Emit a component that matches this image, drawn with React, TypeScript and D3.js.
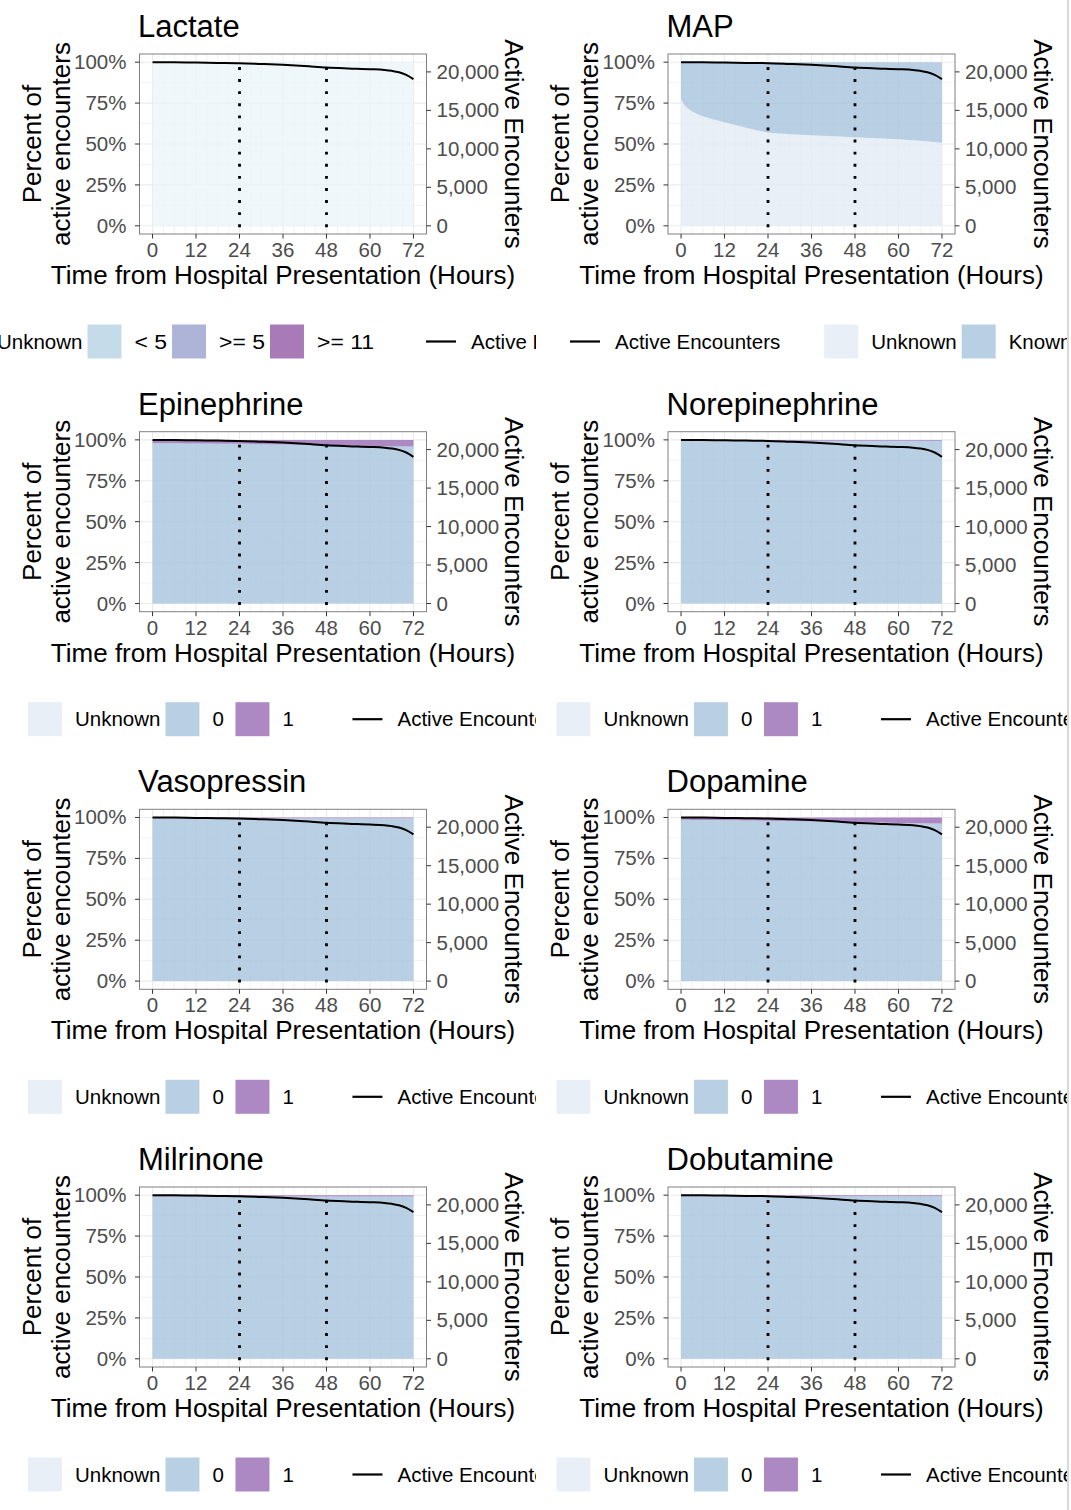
import React from 'react';
import * as d3 from 'd3';

const W = 1071;
const H = 1510;
const FONT = '"Liberation Sans", Arial, Helvetica, sans-serif';

// ---- axis / tick data ----
const hourTicks = [0, 12, 24, 36, 48, 60, 72];
const hourGrid = [0, 3, 6, 9, 12, 15, 18, 21, 24, 27, 30, 33, 36, 39, 42, 45, 48, 51, 54, 57, 60, 63, 66, 69, 72];
const pctTicks = [0, 25, 50, 75, 100];
const pctGrid = [0, 12.5, 25, 37.5, 50, 62.5, 75, 87.5, 100];
const countTicks = [0, 5000, 10000, 15000, 20000];
const refHours = [24, 48];

// ---- active encounters (secondary axis) ----
const maxActive = 21263;
const activeHours = [0, 6, 12, 18, 24, 30, 36, 42, 48, 54, 60, 64, 66, 68, 70, 72];
const activeCounts = [21263, 21250, 21210, 21170, 21130, 21030, 20920, 20760, 20570, 20450, 20350, 20250, 20140, 19960, 19620, 19060];

// ---- stacked percentages (hours sampled) ----
const bandHours = [0, 1, 2, 3, 6, 9, 12, 18, 24, 30, 36, 42, 48, 54, 60, 66, 72];
const lactateUnknown = [100, 100, 100, 100, 100, 100, 100, 100, 100, 100, 100, 100, 100, 100, 100, 100, 100];
const mapUnknown = [77.5, 73.5, 71.5, 70, 67, 65, 63.3, 60, 57, 56, 55.3, 54.7, 54.1, 53.5, 52.9, 52.0, 50.8];
const epiPositive = [2.0, 2.0, 2.0, 2.0, 2.1, 2.2, 2.2, 2.3, 2.4, 2.6, 2.8, 3.0, 3.3, 3.6, 3.9, 4.0, 4.1];
const norepiPositive = [0.5, 0.5, 0.5, 0.5, 0.5, 0.5, 0.5, 0.5, 0.5, 0.5, 0.5, 0.5, 0.5, 0.5, 0.5, 0.5, 0.5];
const vasoPositive = [0.4, 0.4, 0.4, 0.4, 0.4, 0.4, 0.4, 0.4, 0.4, 0.4, 0.4, 0.4, 0.4, 0.4, 0.4, 0.4, 0.4];
const dopaPositive = [1.4, 1.4, 1.4, 1.5, 1.5, 1.6, 1.7, 1.8, 2.0, 2.2, 2.4, 2.5, 2.7, 3.0, 3.3, 3.5, 3.7];
const milrinonePositive = [0.8, 0.8, 0.8, 0.8, 0.8, 0.8, 0.8, 0.8, 0.8, 0.8, 0.8, 0.8, 0.8, 0.8, 0.8, 0.8, 0.8];
const dobutaminePositive = [0.7, 0.7, 0.7, 0.7, 0.7, 0.7, 0.7, 0.7, 0.7, 0.7, 0.7, 0.7, 0.7, 0.7, 0.7, 0.7, 0.7];

// ---- colours ----
const FILL_OPACITY = 0.8;
const cLactUnknown = '#ecf5f9';
const cLt5 = '#b8d2e4';
const cGe5 = '#9aa1ce';
const cGe11 = '#9459a6';
const cUnknown = '#e2ebf4';
const cBlue = '#a7c3dd';
const cPurple = '#986cb5';

type Layer = { key: string; color: string; values: number[] };
type LegendItem = { type: 'fill' | 'line'; label: string; color?: string };
type Spec = {
  title: string;
  layers: Layer[];
  legend: LegendItem[][];
  legendX: number;
  groupGap: number;
  symbolStretch: number;
};

const binaryLegend: LegendItem[][] = [
  [
    { type: 'fill', label: 'Unknown', color: cUnknown },
    { type: 'fill', label: '0', color: cBlue },
    { type: 'fill', label: '1', color: cPurple },
  ],
  [{ type: 'line', label: 'Active Encounters' }],
];

function binarySpec(title: string, positive: number[]): Spec {
  return {
    title,
    layers: [
      { key: '0', color: cBlue, values: positive.map((p) => 100 - p) },
      { key: '1', color: cPurple, values: positive },
    ],
    legend: binaryLegend,
    legendX: 28,
    groupGap: 45,
    symbolStretch: 1,
  };
}

const specs: Spec[] = [
  {
    title: 'Lactate',
    layers: [{ key: 'Unknown', color: cLactUnknown, values: lactateUnknown }],
    legend: [
      [
        { type: 'fill', label: 'Unknown', color: cLactUnknown },
        { type: 'fill', label: '< 5', color: cLt5 },
        { type: 'fill', label: '>= 5', color: cGe5 },
        { type: 'fill', label: '>= 11', color: cGe11 },
      ],
      [{ type: 'line', label: 'Active Encounters' }],
    ],
    legendX: -50,
    groupGap: 45,
    symbolStretch: 1.12,
  },
  {
    title: 'MAP',
    layers: [
      { key: 'Unknown', color: cUnknown, values: mapUnknown },
      { key: 'Known', color: cBlue, values: mapUnknown.map((u) => 100 - u) },
    ],
    legend: [
      [{ type: 'line', label: 'Active Encounters' }],
      [
        { type: 'fill', label: 'Unknown', color: cUnknown },
        { type: 'fill', label: 'Known', color: cBlue },
      ],
    ],
    legendX: 39.5,
    groupGap: 39,
    symbolStretch: 1,
  },
  binarySpec('Epinephrine', epiPositive),
  binarySpec('Norepinephrine', norepiPositive),
  binarySpec('Vasopressin', vasoPositive),
  binarySpec('Dopamine', dopaPositive),
  binarySpec('Milrinone', milrinonePositive),
  binarySpec('Dobutamine', dobutaminePositive),
];

const COL_X = [0, 528.5];
const ROW_Y = [0, 377.7, 755.3, 1133];
const CLIP = [
  [0, 536],
  [536, 1067],
];

let measureCtx: CanvasRenderingContext2D | null = null;
function textW(s: string, size: number) {
  if (!measureCtx && typeof document !== 'undefined') {
    measureCtx = document.createElement('canvas').getContext('2d');
  }
  if (measureCtx) {
    measureCtx.font = `${size}px ${FONT}`;
    return measureCtx.measureText(s).width;
  }
  return s.length * size * 0.55;
}

const TICK_SIZE = 20.5;
const LEG_SIZE = 20.5;
const AXIS_TITLE = 26;
const TITLE_SIZE = 31;
const ITEM_GAP = 5;
const MIN_LABEL = 18;

function Legend({ ox, cy, spec }: { ox: number; cy: number; spec: Spec }) {
  let x = ox + spec.legendX;
  const els: React.ReactNode[] = [];
  spec.legend.forEach((g, gi) => {
    if (gi > 0) x += spec.groupGap;
    g.forEach((it, ii) => {
      if (it.type === 'fill') {
        els.push(
          <rect key={`k${gi}-${ii}`} x={x} y={cy - 17} width={34} height={34} fill={it.color} fillOpacity={FILL_OPACITY} />
        );
      } else {
        els.push(
          <line key={`k${gi}-${ii}`} x1={x + 2} x2={x + 32} y1={cy} y2={cy} stroke="#000" strokeWidth={2.2} />
        );
      }
      const isSymbolic = /[<>=]/.test(it.label);
      const baseW = textW(it.label, LEG_SIZE);
      const w = isSymbolic ? baseW * spec.symbolStretch : baseW;
      els.push(
        <text
          key={`t${gi}-${ii}`}
          x={x + 47}
          y={cy + 7}
          fontSize={LEG_SIZE}
          fill="#000"
          {...(isSymbolic && spec.symbolStretch !== 1
            ? { textLength: w, lengthAdjust: 'spacingAndGlyphs' }
            : {})}
        >
          {it.label}
        </text>
      );
      x += 47 + Math.max(w, MIN_LABEL) + ITEM_GAP;
    });
  });
  return <g>{els}</g>;
}

function Panel({ spec, ox, oy }: { spec: Spec; ox: number; oy: number }) {
  const px0 = ox + 139.5;
  const px1 = ox + 426.5;
  const py0 = oy + 54;
  const py1 = oy + 234;
  const x = d3.scaleLinear().domain([-3.6, 75.6]).range([px0, px1]);
  const y = d3.scaleLinear().domain([-5, 105]).range([py1, py0]);
  const yc = d3
    .scaleLinear()
    .domain([-0.05 * maxActive, 1.05 * maxActive])
    .range([py1, py0]);

  const rows = bandHours.map((h, i) => {
    const r: any = { hour: h };
    spec.layers.forEach((l) => (r[l.key] = l.values[i]));
    return r;
  });
  const stack = d3.stack<any>().keys(spec.layers.map((l) => l.key));
  const series = stack(rows);
  const area = d3
    .area<any>()
    .x((d) => x(d.data.hour))
    .y0((d) => y(d[0]))
    .y1((d) => y(d[1]))
    .curve(d3.curveMonotoneX);

  const activeLine = d3
    .line<number>()
    .x((_, i) => x(activeHours[i]))
    .y((d) => yc(d))
    .curve(d3.curveMonotoneX);

  const fmt = d3.format(',');
  const cy = (py0 + py1) / 2;

  return (
    <g>
      <rect x={px0} y={py0} width={px1 - px0} height={py1 - py0} fill="#fff" />
      {hourGrid.map((h) => (
        <line
          key={`gx${h}`}
          x1={x(h)}
          x2={x(h)}
          y1={py0}
          y2={py1}
          stroke="#ebebeb"
          strokeWidth={h % 12 === 0 ? 1.1 : 0.6}
        />
      ))}
      {pctGrid.map((p) => (
        <line
          key={`gy${p}`}
          x1={px0}
          x2={px1}
          y1={y(p)}
          y2={y(p)}
          stroke="#ebebeb"
          strokeWidth={p % 25 === 0 ? 1.1 : 0.6}
        />
      ))}
      {series.map((s, i) => (
        <path key={`a${i}`} d={area(s as any) || ''} fill={spec.layers[i].color} fillOpacity={FILL_OPACITY} />
      ))}
      {refHours.map((h) => (
        <line
          key={`r${h}`}
          x1={x(h)}
          x2={x(h)}
          y1={y(0)}
          y2={y(100)}
          stroke="#000"
          strokeWidth={2.8}
          strokeDasharray="0.1 12"
          strokeLinecap="square"
        />
      ))}
      <path d={activeLine(activeCounts) || ''} fill="none" stroke="#000" strokeWidth={2} />
      <rect x={px0} y={py0} width={px1 - px0} height={py1 - py0} fill="none" stroke="#808080" strokeWidth={1} />

      {pctTicks.map((p) => (
        <g key={`yl${p}`}>
          <line x1={px0 - 4.5} x2={px0} y1={y(p)} y2={y(p)} stroke="#333" strokeWidth={1} />
          <text x={px0 - 13} y={y(p) + 7} textAnchor="end" fontSize={TICK_SIZE} fill="#4d4d4d">
            {p + '%'}
          </text>
        </g>
      ))}
      {countTicks.map((c) => (
        <g key={`yr${c}`}>
          <line x1={px1} x2={px1 + 4.5} y1={yc(c)} y2={yc(c)} stroke="#333" strokeWidth={1} />
          <text x={px1 + 10} y={yc(c) + 7} textAnchor="start" fontSize={TICK_SIZE} fill="#4d4d4d">
            {fmt(c)}
          </text>
        </g>
      ))}
      {hourTicks.map((h) => (
        <g key={`xb${h}`}>
          <line x1={x(h)} x2={x(h)} y1={py1} y2={py1 + 4.5} stroke="#333" strokeWidth={1} />
          <text x={x(h)} y={py1 + 23} textAnchor="middle" fontSize={TICK_SIZE} fill="#4d4d4d">
            {h}
          </text>
        </g>
      ))}

      <text x={(px0 + px1) / 2} y={oy + 284} textAnchor="middle" fontSize={AXIS_TITLE} fill="#000">
        Time from Hospital Presentation (Hours)
      </text>
      <text transform={`translate(${ox + 40.5},${cy}) rotate(-90)`} textAnchor="middle" fontSize={AXIS_TITLE} fill="#000">
        Percent of
      </text>
      <text transform={`translate(${ox + 69.5},${cy}) rotate(-90)`} textAnchor="middle" fontSize={AXIS_TITLE} fill="#000">
        active encounters
      </text>
      <text transform={`translate(${ox + 505},${cy}) rotate(90)`} textAnchor="middle" fontSize={AXIS_TITLE} fill="#000">
        Active Encounters
      </text>
      <text x={ox + 138} y={oy + 37} fontSize={TITLE_SIZE} fill="#000">
        {spec.title}
      </text>

      <Legend ox={ox} cy={oy + 341.5} spec={spec} />
    </g>
  );
}

export default function App() {
  return (
    <svg
      width={W}
      height={H}
      viewBox={`0 0 ${W} ${H}`}
      style={{ position: 'absolute', left: 0, top: 0, fontFamily: FONT }}
    >
      <rect x={0} y={0} width={W} height={H} fill="#fff" />
      <defs>
        {CLIP.map((c, i) => (
          <clipPath id={`col${i}`} key={i}>
            <rect x={c[0]} y={0} width={c[1] - c[0]} height={H} />
          </clipPath>
        ))}
      </defs>
      {specs.map((s, i) => {
        const col = i % 2;
        const row = Math.floor(i / 2);
        return (
          <g key={s.title} clipPath={`url(#col${col})`}>
            <Panel spec={s} ox={COL_X[col]} oy={ROW_Y[row]} />
          </g>
        );
      })}
      <line x1={1068} x2={1068} y1={0} y2={H} stroke="#b3b3b3" strokeWidth={1} />
    </svg>
  );
}
